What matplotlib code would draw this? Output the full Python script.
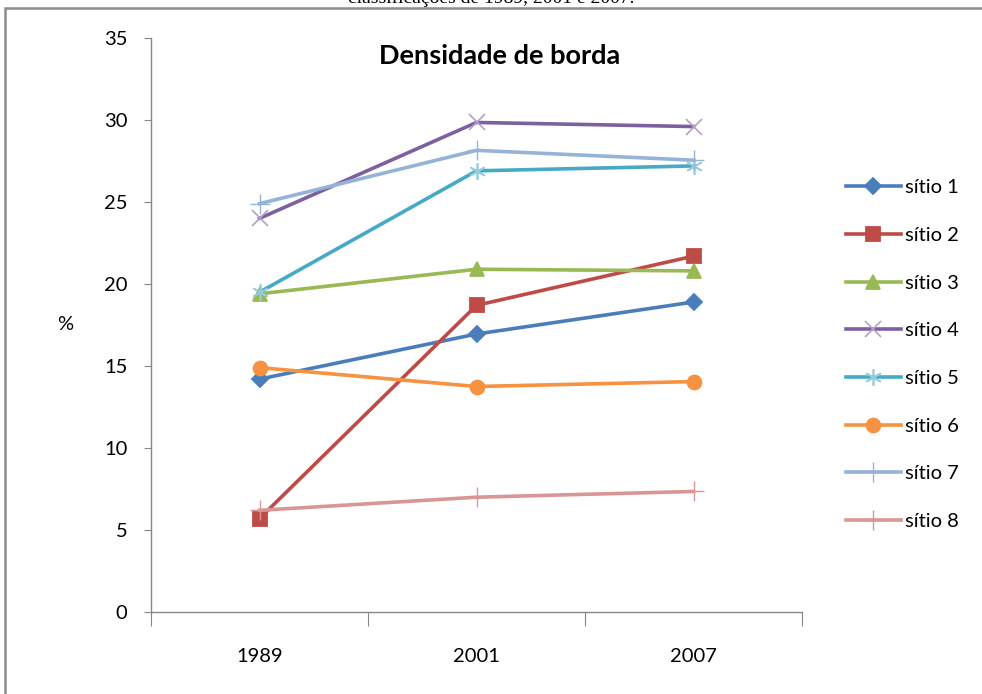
import matplotlib.pyplot as plt
from matplotlib.patches import Rectangle

# dados (densidade de borda, %)
anos = ["1989", "2001", "2007"]
sitio1 = [14.2, 16.95, 18.9]
sitio2 = [5.7, 18.7, 21.7]
sitio3 = [19.4, 20.9, 20.8]
sitio4 = [24.0, 29.85, 29.6]
sitio5 = [19.5, 26.9, 27.2]
sitio6 = [14.9, 13.75, 14.05]
sitio7 = [24.9, 28.15, 27.55]
sitio8 = [6.2, 7.0, 7.35]
nomes = ["sítio 1", "sítio 2", "sítio 3", "sítio 4", "sítio 5", "sítio 6", "sítio 7", "sítio 8"]

series = [sitio1, sitio2, sitio3, sitio4, sitio5, sitio6, sitio7, sitio8]
cores = ["#4A7EBB", "#BE4B48", "#98B954", "#7D60A0", "#46AAC5", "#F69240", "#95B3D7", "#D99694"]
cor_marc = ["#4A7EBB", "#BE4B48", "#98B954", "#B3A2C7", "#93CDDD", "#F69240", "#95B3D7", "#D99694"]
marcadores = ["D", "s", "^", "x", (6, 2, 0), "o", "+", "+"]
tamanhos = [8, 10, 10, 11, 12, 10, 14, 14]
bordas_marc = [1.3, 1.3, 1.3, 1.2, 1.2, 1.3, 1.0, 1.0]

plt.rcParams['font.family'] = ['Lato', 'DejaVu Sans']

fig = plt.figure(figsize=(9.82, 6.94), dpi=100)
ax = fig.add_axes([151/982, 1-612/694, (802-151)/982, (612-38)/694])

x = list(range(len(anos)))
for s, nome, c, mc, m, ms, mew in zip(series, nomes, cores, cor_marc, marcadores, tamanhos, bordas_marc):
    ax.plot(x, s, color=c, lw=2.6, marker=m, markersize=ms,
            markerfacecolor=mc, markeredgecolor=mc, markeredgewidth=mew, label=nome)

ax.set_xlim(-0.5, 2.5)
ax.set_ylim(0, 35)
ax.set_yticks(range(0, 36, 5))
ax.set_xticks([-0.5, 0.5, 1.5, 2.5])
ax.set_xticklabels([])
ax.set_xticks(x, minor=True)
ax.set_xticklabels(anos, minor=True)
ax.tick_params(axis='x', which='major', length=10, color='#868686', direction='out')
ax.tick_params(axis='x', which='minor', length=0, pad=26, labelsize=14.5)
ax.tick_params(axis='y', length=5, color='#868686', labelsize=14.5, pad=12)

for side in ['top', 'right']:
    ax.spines[side].set_visible(False)
for side in ['left', 'bottom']:
    ax.spines[side].set_color('#868686')
    ax.spines[side].set_linewidth(1.0)

ax.set_ylabel("%", rotation=0, fontsize=14.5, labelpad=28, va='center')
ax.set_title("Densidade de borda", fontsize=19.5, fontweight='bold', x=0.536, y=0.94)

leg = fig.legend(loc='upper left', bbox_to_anchor=(828/982, 1-161/694), frameon=False,
                 fontsize=14.5, labelspacing=1.52, handlelength=2.7, handletextpad=0.2)

fig.text(0.5, 1.003, "classificações de 1989, 2001 e 2007.", ha='center', va='center',
         fontsize=14, family='Liberation Serif')

borda = Rectangle((5/982, -0.1), 1.2, 1 - 8/694 + 0.1, transform=fig.transFigure,
                  fill=False, edgecolor='#8c8c8c', lw=1.8)
fig.patches.append(borda)

fig.savefig("out.png", dpi=100)
